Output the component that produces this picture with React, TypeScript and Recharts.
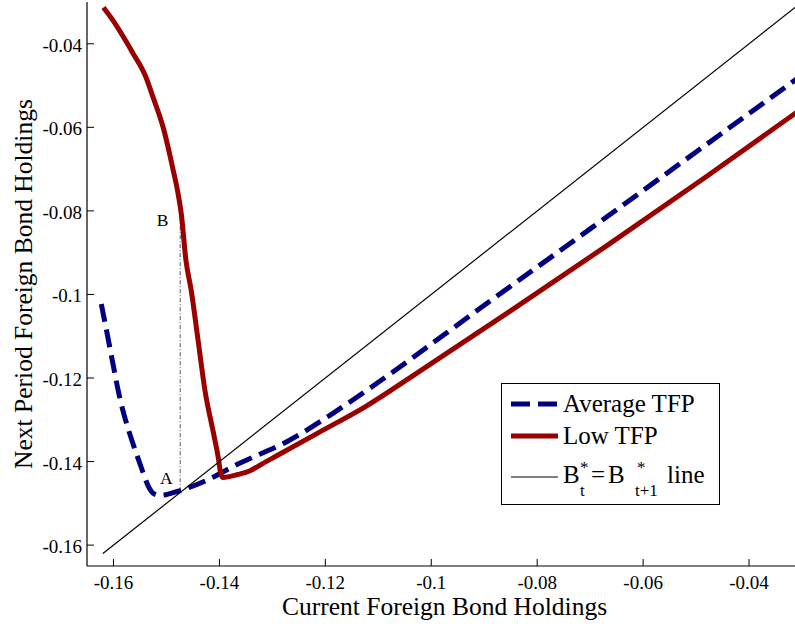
import React from 'react';
import { LineChart, Line, XAxis, YAxis, Legend, Label } from 'recharts';

const FONT = "'Liberation Serif', 'Times New Roman', Times, serif";
const serif = (size: number): React.CSSProperties => ({ fontFamily: FONT, fontSize: size });

const xTicks = [-0.16, -0.14, -0.12, -0.1, -0.08, -0.06, -0.04];
const yTicks = [-0.16, -0.14, -0.12, -0.1, -0.08, -0.06, -0.04];
const tickLabels = ['-0.16', '-0.14', '-0.12', '-0.1', '-0.08', '-0.06', '-0.04'];

const avgX = [-0.1623, -0.1613, -0.1601, -0.1588, -0.1575, -0.1563, -0.1547, -0.1535, -0.1525, -0.1512, -0.1478, -0.1428, -0.1365, -0.1272, -0.1185, -0.1102, -0.0900, -0.0700, -0.0500, -0.0300];
const avgY = [-0.1023, -0.1087, -0.1166, -0.1248, -0.1310, -0.1358, -0.1416, -0.1457, -0.1476, -0.1481, -0.1471, -0.1447, -0.1406, -0.1352, -0.1284, -0.1212, -0.1026, -0.0843, -0.0659, -0.0475];

const lowX = [-0.1619, -0.1601, -0.1582, -0.1563, -0.1540, -0.1525, -0.1506, -0.1487, -0.1479, -0.1472, -0.1463, -0.1453, -0.1440, -0.1427, -0.1412, -0.1402, -0.1398, -0.1394, -0.1365, -0.1342, -0.1320, -0.1290, -0.1216, -0.1121, -0.1035, -0.0851, -0.0667, -0.0483, -0.0300];
const lowY = [-0.0313, -0.0344, -0.0382, -0.0423, -0.0476, -0.0529, -0.0601, -0.0704, -0.0752, -0.0807, -0.0920, -0.0992, -0.1112, -0.1232, -0.1327, -0.1392, -0.1425, -0.1438, -0.1431, -0.1422, -0.1406, -0.1385, -0.1333, -0.1266, -0.1195, -0.1040, -0.0882, -0.0720, -0.0555];

const diagX = [-0.162, -0.03];
const diagY = [-0.162, -0.03];

const abX = [-0.1474, -0.1474];
const abY = [-0.1471, -0.0805];
const abNames = ['A', 'B'];

const zip = (xs: number[], ys: number[]) => xs.map((x, i) => ({ x, y: ys[i] }));
const avgData = zip(avgX, avgY);
const lowData = zip(lowX, lowY);
const diagData = zip(diagX, diagY);
const abData = abX.map((x, i) => ({ x, y: abY[i], name: abNames[i] }));

const labelFor = (v: number) => {
  const i = xTicks.findIndex((t) => Math.abs(t - v) < 1e-9);
  return i >= 0 ? tickLabels[i] : String(v);
};

const BottomTick = (p: any) => (
  <g>
    <line x1={p.x} x2={p.x} y1={p.y} y2={p.y - 7} stroke="#000" strokeWidth={1} />
    <text x={p.x} y={p.y + 23} textAnchor="middle" style={serif(19)} fill="#000">
      {labelFor(p.payload.value)}
    </text>
  </g>
);
const TopTick = (p: any) => (
  <line x1={p.x} x2={p.x} y1={p.y} y2={p.y + 7} stroke="#000" strokeWidth={1} />
);
const LeftTick = (p: any) => (
  <g>
    <line x1={p.x} x2={p.x + 7} y1={p.y} y2={p.y} stroke="#000" strokeWidth={1} />
    <text x={p.x - 5} y={p.y + 8} textAnchor="end" style={serif(19)} fill="#000">
      {labelFor(p.payload.value)}
    </text>
  </g>
);
const RightTick = (p: any) => (
  <line x1={p.x} x2={p.x - 7} y1={p.y} y2={p.y} stroke="#000" strokeWidth={1} />
);

const ABLabel = (p: any) => {
  if (p.index === 0) {
    return (
      <text x={p.x - 14} y={p.y - 7} textAnchor="middle" style={serif(17.5)} fill="#000">
        {abNames[0]}
      </text>
    );
  }
  return (
    <text x={p.x - 17.5} y={p.y + 13} textAnchor="middle" style={serif(17.5)} fill="#000">
      {abNames[1]}
    </text>
  );
};

const LegendBox = () => (
  <div style={{ width: 219, height: 122, border: '1px solid #000', background: '#fff', boxSizing: 'border-box' }}>
    <svg width={217} height={120} style={{ display: 'block' }}>
      <line x1={9} x2={56} y1={20} y2={20} stroke="#000080" strokeWidth={5} strokeDasharray="19 8" />
      <text x={61} y={28} style={serif(25)} fill="#000">Average TFP</text>
      <line x1={9} x2={56} y1={52} y2={52} stroke="#990000" strokeWidth={5} />
      <text x={61} y={60} style={serif(25)} fill="#000">Low TFP</text>
      <line x1={9} x2={56} y1={93} y2={93} stroke="#000" strokeWidth={1.2} />
      <text x={61} y={99} style={serif(25)} fill="#000">B</text>
      <text x={78} y={89} style={serif(17)} fill="#000">*</text>
      <text x={78} y={112} style={serif(17)} fill="#000">t</text>
      <text x={89} y={99} style={serif(25)} fill="#000">=</text>
      <text x={106} y={99} style={serif(25)} fill="#000">B</text>
      <text x={135} y={89} style={serif(17)} fill="#000">*</text>
      <text x={133} y={112} style={serif(17)} fill="#000">t+1</text>
      <text x={165} y={99} style={serif(25)} fill="#000">line</text>
    </svg>
  </div>
);

export default function App() {
  return (
    <div style={{ position: 'absolute', left: 0, top: 0, width: 795, height: 626, overflow: 'hidden', background: '#fff', fontFamily: FONT }}>
      <LineChart width={815} height={626} margin={{ top: 2, right: 13, left: 0, bottom: 0 }}>
        <XAxis
          dataKey="x"
          type="number"
          domain={[-0.165, -0.03]}
          allowDataOverflow
          ticks={xTicks}
          interval={0}
          tickSize={0}
          tickMargin={0}
          tick={<BottomTick />}
          tickLine={false}
          axisLine={{ stroke: '#000', strokeWidth: 1.2 }}
          height={60}
        >
          <Label
            content={(props: any) => {
              const vb = props.viewBox;
              return (
                <text x={vb.x + vb.width / 2} y={vb.y + 49} textAnchor="middle" style={serif(25.5)} fill="#000">
                  Current Foreign Bond Holdings
                </text>
              );
            }}
          />
        </XAxis>
        <XAxis
          xAxisId="top"
          orientation="top"
          dataKey="x"
          type="number"
          domain={[-0.165, -0.03]}
          allowDataOverflow
          ticks={xTicks}
          interval={0}
          tickSize={0}
          tickMargin={0}
          tick={<TopTick />}
          tickLine={false}
          axisLine={{ stroke: '#000', strokeWidth: 1.2 }}
          height={0}
        />
        <YAxis
          type="number"
          domain={[-0.165, -0.03]}
          allowDataOverflow
          ticks={yTicks}
          interval={0}
          tickSize={0}
          tickMargin={0}
          tick={<LeftTick />}
          tickLine={false}
          axisLine={{ stroke: '#000', strokeWidth: 1.2 }}
          width={87}
        >
          <Label
            content={(props: any) => {
              const vb = props.viewBox;
              const cx = 32;
              const cy = vb.y + vb.height / 2;
              return (
                <text x={cx} y={cy} transform={`rotate(-90, ${cx}, ${cy})`} textAnchor="middle" style={serif(25.5)} fill="#000">
                  Next Period Foreign Bond Holdings
                </text>
              );
            }}
          />
        </YAxis>
        <YAxis
          yAxisId="right"
          orientation="right"
          type="number"
          domain={[-0.165, -0.03]}
          allowDataOverflow
          ticks={yTicks}
          interval={0}
          tickSize={0}
          tickMargin={0}
          tick={<RightTick />}
          tickLine={false}
          axisLine={{ stroke: '#000', strokeWidth: 1.2 }}
          width={0}
        />
        <Legend
          layout="vertical"
          align="center"
          verticalAlign="middle"
          content={() => <LegendBox />}
          wrapperStyle={{ position: 'absolute', left: 501, top: 383, width: 219, height: 122 }}
        />
        <Line
          data={abData}
          dataKey="y"
          type="linear"
          stroke="#555"
          strokeWidth={1}
          strokeDasharray="4 2 1 2"
          dot={false}
          activeDot={false}
          isAnimationActive={false}
          label={<ABLabel />}
          legendType="none"
        />
        <Line
          data={avgData}
          dataKey="y"
          name="Average TFP"
          type="monotone"
          stroke="#000080"
          strokeWidth={5}
          strokeDasharray="18 8"
          dot={false}
          activeDot={false}
          isAnimationActive={false}
        />
        <Line
          data={lowData}
          dataKey="y"
          name="Low TFP"
          type="monotone"
          stroke="#990000"
          strokeWidth={5}
          dot={false}
          activeDot={false}
          isAnimationActive={false}
        />
        <Line
          data={diagData}
          dataKey="y"
          name="line"
          type="linear"
          stroke="#000"
          strokeWidth={1.2}
          dot={false}
          activeDot={false}
          isAnimationActive={false}
        />
      </LineChart>
    </div>
  );
}
